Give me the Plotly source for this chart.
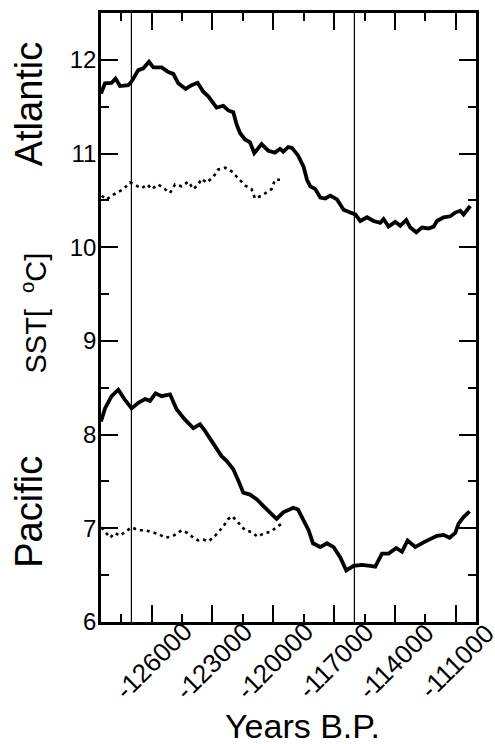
import plotly.graph_objects as go

# ---------------- data ----------------
atl_years = [-128500, -128303, -127977, -127780, -127563, -127153, -126990, -126660, -126413,
             -126132, -125920, -125510, -125180, -124933, -124687, -124327, -124030, -123735,
             -123453, -123207, -122797, -122467, -122220, -121974, -121810, -121643, -121397,
             -121150, -120938, -120578, -120247, -119917, -119670, -119507, -119260, -119078,
             -118780, -118506, -118337, -118175, -117928, -117682, -117435, -117188, -116858,
             -116532, -116202, -115955, -115709, -115378, -115053, -114722, -114560, -114313,
             -113982, -113735, -113440, -113242, -112946, -112665, -112339, -112093, -111925,
             -111600, -111269, -111022, -110775, -110613, -110283]
atl_sst = [11.64, 11.75, 11.755, 11.80, 11.72, 11.73, 11.77, 11.89, 11.91,
           11.98, 11.92, 11.92, 11.87, 11.85, 11.75, 11.69, 11.73, 11.755,
           11.66, 11.61, 11.49, 11.51, 11.46, 11.44, 11.31, 11.22, 11.15,
           11.12, 11.005, 11.10, 11.03, 11.01, 11.05, 11.02, 11.07, 11.06,
           10.98, 10.86, 10.72, 10.65, 10.62, 10.53, 10.52, 10.55, 10.51,
           10.40, 10.37, 10.35, 10.28, 10.32, 10.28, 10.26, 10.30, 10.22,
           10.27, 10.23, 10.29, 10.21, 10.16, 10.21, 10.20, 10.22, 10.28,
           10.32, 10.33, 10.37, 10.39, 10.35, 10.44]

atl_dot_years = [-128470, -128224, -127977, -127730, -127400, -127069, -126744, -126497, -126201,
                 -126004, -125673, -125343, -125096, -124850, -124524, -124193, -123947, -123700,
                 -123537, -123291, -122960, -122714, -122383, -122057, -121727, -121397, -121071,
                 -120903, -120578, -120331, -120084, -119917, -119670]
atl_dot_sst = [10.55, 10.51, 10.55, 10.58, 10.62, 10.69, 10.66, 10.63, 10.67,
               10.62, 10.67, 10.62, 10.58, 10.67, 10.65, 10.70, 10.62, 10.67,
               10.73, 10.69, 10.75, 10.83, 10.85, 10.81, 10.74, 10.66, 10.62,
               10.52, 10.55, 10.59, 10.62, 10.72, 10.72]

pac_years = [-128500, -128303, -127977, -127647, -127316, -126990, -126660, -126329, -126083,
             -125807, -125510, -125096, -124771, -124356, -123947, -123616, -123370, -122960,
             -122551, -122304, -121974, -121727, -121480, -121150, -120824, -120410, -120084,
             -119838, -119507, -119177, -119014, -118780, -118506, -118259, -118042, -117682,
             -117352, -117026, -116695, -116399, -116039, -115625, -115215, -114969, -114639,
             -114313, -113933, -113652, -113376, -112996, -112587, -112256, -111925, -111600,
             -111304, -111022, -110860, -110613, -110317]
pac_sst = [8.14, 8.28, 8.41, 8.48, 8.37, 8.28, 8.34, 8.38, 8.36,
           8.44, 8.41, 8.43, 8.27, 8.16, 8.07, 8.11, 8.04, 7.90,
           7.77, 7.72, 7.63, 7.51, 7.38, 7.36, 7.31, 7.22, 7.15,
           7.10, 7.17, 7.20, 7.22, 7.20, 7.08, 6.98, 6.84, 6.80,
           6.84, 6.80, 6.69, 6.55, 6.60, 6.61, 6.60, 6.59, 6.73,
           6.73, 6.79, 6.75, 6.87, 6.80, 6.85, 6.88, 6.92, 6.93,
           6.90, 6.95, 7.05, 7.12, 7.18]

pac_dot_years = [-128470, -128056, -127809, -127563, -127316, -126990, -126660, -126329, -126004,
                 -125673, -125343, -125017, -124771, -124524, -124228, -123947, -123700, -123453,
                 -123207, -122911, -122714, -122467, -122220, -122023, -121727, -121397, -121071,
                 -120775, -120444, -120163, -119838, -119591]
pac_dot_sst = [7.01, 6.90, 6.95, 6.92, 6.96, 7.01, 6.98, 6.98, 6.96,
               6.94, 6.90, 6.91, 6.94, 6.98, 6.95, 6.90, 6.87, 6.88,
               6.86, 6.91, 6.96, 7.02, 7.10, 7.13, 7.06, 6.98, 6.96,
               6.91, 6.95, 6.96, 7.01, 7.05]

vline_years = [-127000, -116000]
x_tick_vals = [-126000, -123000, -120000, -117000, -114000, -111000]
x_tick_text = ["-126000", "-123000", "-120000", "-117000", "-114000", "-111000"]
y_tick_vals = [6, 7, 8, 9, 10, 11, 12]

FONT = "Liberation Sans, Arial, Helvetica, sans-serif"

fig = go.Figure()
solid = dict(color="black", width=3.8)
dotted = dict(color="black", width=2.6, dash="3px,4px")
fig.add_trace(go.Scatter(x=atl_years, y=atl_sst, mode="lines", line=solid))
fig.add_trace(go.Scatter(x=atl_dot_years, y=atl_dot_sst, mode="lines", line=dotted))
fig.add_trace(go.Scatter(x=pac_years, y=pac_sst, mode="lines", line=solid))
fig.add_trace(go.Scatter(x=pac_dot_years, y=pac_dot_sst, mode="lines", line=dotted))

for v in vline_years:
    fig.add_shape(type="line", xref="x", yref="paper", x0=v, x1=v, y0=0, y1=1,
                  line=dict(color="black", width=1.2))

annotations = []
for v, t in zip(x_tick_vals, x_tick_text):
    annotations.append(dict(x=v, y=-0.0637, xref="x", yref="paper", text=t,
                            showarrow=False, textangle=-45, xshift=1.5,
                            font=dict(family=FONT, size=26, color="black"),
                            xanchor="center", yanchor="middle"))
annotations += [
    dict(x=-0.192, y=0.85, xref="paper", yref="paper", text="Atlantic", showarrow=False,
         textangle=-90, font=dict(family=FONT, size=38, color="black"),
         xanchor="center", yanchor="middle"),
    dict(x=-0.192, y=0.181, xref="paper", yref="paper", text="Pacific", showarrow=False,
         textangle=-90, font=dict(family=FONT, size=38, color="black"),
         xanchor="center", yanchor="middle"),
    dict(x=-0.178, y=0.507, xref="paper", yref="paper", text="SST[&nbsp; <sup>o</sup>C]",
         showarrow=False, textangle=-90, font=dict(family=FONT, size=29, color="black"),
         xanchor="center", yanchor="middle"),
    dict(x=0.536, y=-0.17, xref="paper", yref="paper", text="Years B.P.", showarrow=False,
         font=dict(family=FONT, size=34, color="black"),
         xanchor="center", yanchor="middle"),
]

fig.update_layout(
    width=495, height=744,
    margin=dict(l=101, r=19, t=10, b=122),
    paper_bgcolor="white", plot_bgcolor="white",
    showlegend=False,
    annotations=annotations,
    xaxis=dict(range=[-128500, -110000], tickvals=x_tick_vals, showticklabels=False,
               ticks="inside", ticklen=17, tickwidth=1.5, tickcolor="black",
               minor=dict(ticks="inside", ticklen=8, tickwidth=1.5, tickcolor="black",
                          dtick=1500, tick0=-126000, showgrid=False),
               showline=True, linecolor="black", linewidth=2.5, mirror="ticks",
               showgrid=False, zeroline=False),
    yaxis=dict(range=[6, 12.5], tickvals=y_tick_vals,
               ticks="inside", ticklen=17, tickwidth=1.5, tickcolor="black",
               minor=dict(ticks="inside", ticklen=8, tickwidth=1.5, tickcolor="black",
                          dtick=0.5, tick0=6, showgrid=False),
               tickfont=dict(family=FONT, size=24, color="black"),
               ticklabelstandoff=-3,
               showline=True, linecolor="black", linewidth=2.5, mirror="ticks",
               showgrid=False, zeroline=False),
)

fig.write_html("out.html")
